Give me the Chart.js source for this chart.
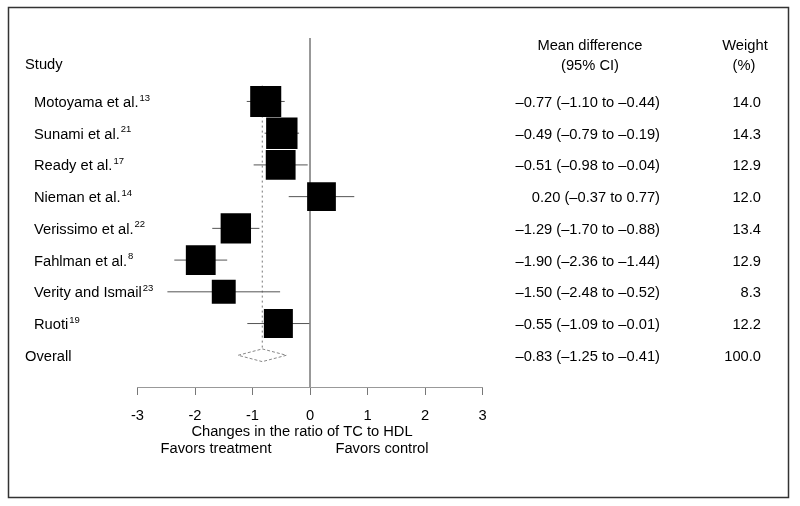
<!DOCTYPE html>
<html>
<head>
<meta charset="utf-8">
<script src="https://cdn.jsdelivr.net/npm/chart.js@4.4.1/dist/chart.umd.min.js"></script>
<style>
  html, body { margin: 0; padding: 0; background: #fff; }
  #wrap { width: 800px; height: 506px; }
</style>
</head>
<body>
<div id="wrap"><canvas id="forest" width="800" height="506"></canvas></div>
<script>
// study rows, top to bottom
var studies = ['Motoyama et al.', 'Sunami et al.', 'Ready et al.', 'Nieman et al.',
               'Verissimo et al.', 'Fahlman et al.', 'Verity and Ismail', 'Ruoti'];
var refs = ['13', '21', '17', '14', '22', '8', '23', '19'];
var meanDiff = [-0.77, -0.49, -0.51, 0.20, -1.29, -1.90, -1.50, -0.55];
var ciLow    = [-1.10, -0.79, -0.98, -0.37, -1.70, -2.36, -2.48, -1.09];
var ciHigh   = [-0.44, -0.19, -0.04, 0.77, -0.88, -1.44, -0.52, -0.01];
var weights  = [14.0, 14.3, 12.9, 12.0, 13.4, 12.9, 8.3, 12.2];

var overallDiff = -0.83;
var overallLow = -1.25;
var overallHigh = -0.41;
var overallWeight = 100.0;

var xTicks = [-3, -2, -1, 0, 1, 2, 3];

var FONT = '"Liberation Sans", Arial, Helvetica, sans-serif';
var SIZE = 14.7;
var overallRow = studies.length;

function fmt(v) {
  return v.toFixed(2).replace('-', '\u2013');
}

var datasets = [];

// squares, sized by weight
datasets.push({
  label: 'studies',
  order: 0,
  data: meanDiff.map(function (d, i) { return { x: d, y: i }; }),
  pointStyle: 'rect',
  pointRadius: weights.map(function (w) { return 8.3 * Math.sqrt(w) / (2 * Math.SQRT1_2); }),
  backgroundColor: '#000',
  borderColor: '#000',
  borderWidth: 0,
  showLine: false
});

// confidence interval lines
studies.forEach(function (s, i) {
  datasets.push({
    label: s + ' CI',
    order: 2,
    data: [{ x: ciLow[i], y: i }, { x: ciHigh[i], y: i }],
    showLine: true,
    borderColor: '#555',
    borderWidth: 1,
    pointRadius: 0
  });
});

// line of no effect
datasets.push({
  label: 'zero',
  order: 3,
  data: [{ x: 0, y: -2 }, { x: 0, y: 9 }],
  showLine: true,
  borderColor: '#8a8a8a',
  borderWidth: 1,
  pointRadius: 0
});

// overall estimate line
datasets.push({
  label: 'overall line',
  order: 3,
  data: [{ x: overallDiff, y: -0.5 }, { x: overallDiff, y: overallRow - 0.2 }],
  showLine: true,
  borderColor: '#777',
  borderWidth: 1,
  borderDash: [2, 3],
  pointRadius: 0
});

// overall diamond
datasets.push({
  label: 'overall',
  order: 1,
  data: [
    { x: overallLow, y: overallRow },
    { x: overallDiff, y: overallRow - 0.2 },
    { x: overallHigh, y: overallRow },
    { x: overallDiff, y: overallRow + 0.2 },
    { x: overallLow, y: overallRow }
  ],
  showLine: true,
  borderColor: '#888',
  borderWidth: 1,
  borderDash: [3, 2],
  pointRadius: 0
});

var textPlugin = {
  id: 'forestText',
  beforeDraw: function (chart) {
    var ctx = chart.ctx;
    ctx.save();
    ctx.fillStyle = '#fff';
    ctx.fillRect(0, 0, chart.width, chart.height);
    ctx.restore();
  },
  afterDraw: function (chart) {
    var ctx = chart.ctx;
    var y = chart.scales.y;
    ctx.save();
    ctx.strokeStyle = '#333';
    ctx.lineWidth = 1.5;
    ctx.strokeRect(8.5, 7.5, 780, 490);

    ctx.fillStyle = '#000';
    ctx.textBaseline = 'middle';
    ctx.font = SIZE + 'px ' + FONT;

    ctx.textAlign = 'left';
    ctx.fillText('Study', 25, 65);
    ctx.textAlign = 'center';
    ctx.fillText('Mean difference', 590, 46);
    ctx.fillText('(95% CI)', 590, 66);
    ctx.fillText('Weight', 745, 46);
    ctx.fillText('(%)', 744, 66);

    studies.forEach(function (s, i) {
      var py = y.getPixelForValue(i) + 1.5;
      ctx.font = SIZE + 'px ' + FONT;
      ctx.textAlign = 'left';
      ctx.fillText(s, 34, py);
      var w = ctx.measureText(s).width;
      ctx.font = '9.5px ' + FONT;
      ctx.fillText(refs[i], 34 + w + 1, py - 5);
      ctx.font = SIZE + 'px ' + FONT;
      ctx.textAlign = 'right';
      ctx.fillText(fmt(meanDiff[i]) + ' (' + fmt(ciLow[i]) + ' to ' + fmt(ciHigh[i]) + ')', 660, py);
      ctx.fillText(weights[i].toFixed(1), 761, py);
    });

    var oy = y.getPixelForValue(overallRow) + 1.5;
    ctx.textAlign = 'left';
    ctx.fillText('Overall', 25, oy);
    ctx.textAlign = 'right';
    ctx.fillText(fmt(overallDiff) + ' (' + fmt(overallLow) + ' to ' + fmt(overallHigh) + ')', 660, oy);
    ctx.fillText(overallWeight.toFixed(1), 761, oy);

    ctx.textAlign = 'center';
    ctx.fillText('Changes in the ratio of TC to HDL', 302, 432);
    ctx.fillText('Favors treatment', 216, 449);
    ctx.fillText('Favors control', 382, 449);
    ctx.restore();
  }
};

var chart = new Chart(document.getElementById('forest').getContext('2d'), {
  type: 'scatter',
  data: { datasets: datasets },
  plugins: [textPlugin],
  options: {
    responsive: false,
    animation: false,
    layout: { padding: { left: 137.5, right: 317.5, top: 38, bottom: 0 } },
    plugins: { legend: { display: false }, tooltip: { enabled: false } },
    scales: {
      x: {
        type: 'linear',
        min: -3,
        max: 3,
        afterFit: function (scale) { scale.height = 119; },
        afterBuildTicks: function (scale) {
          scale.ticks = xTicks.map(function (v) { return { value: v }; });
        },
        ticks: {
          color: '#000',
          padding: 12,
          font: { size: SIZE, family: FONT },
          callback: function (v) { return String(v); }
        },
        grid: { drawOnChartArea: false, drawTicks: true, tickLength: 8, color: '#777' },
        border: { display: true, color: '#999', width: 1 }
      },
      y: {
        type: 'linear',
        min: -2,
        max: 9,
        reverse: true,
        display: false
      }
    }
  }
});
</script>
</body>
</html>
